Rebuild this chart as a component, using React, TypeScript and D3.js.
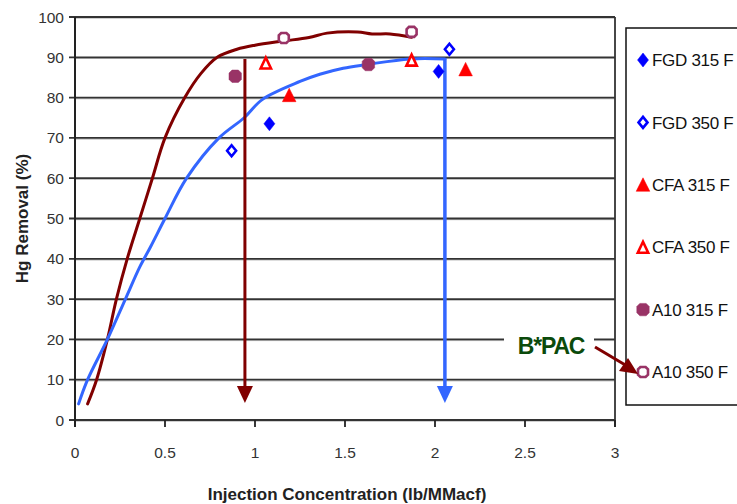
import React from "react";
import * as d3 from "d3";

const W = 737;
const H = 504;

// Axis ticks
const xTickValues = [0, 0.5, 1, 1.5, 2, 2.5, 3];
const yTickValues = [0, 10, 20, 30, 40, 50, 60, 70, 80, 90, 100];

// Series data (lb/MMacf, % removal)
const fgd315 = [{ x: 1.08, y: 73.5 }, { x: 2.02, y: 86.5 }];
const fgd350 = [{ x: 0.87, y: 66.8 }, { x: 2.08, y: 92.0 }];
const cfa315 = [{ x: 1.19, y: 80.6 }, { x: 2.17, y: 87.0 }];
const cfa350 = [{ x: 1.06, y: 88.6 }, { x: 1.87, y: 89.3 }];
const a10_315 = [{ x: 0.89, y: 85.3 }, { x: 1.63, y: 88.2 }];
const a10_350 = [{ x: 1.16, y: 94.8 }, { x: 1.87, y: 96.3 }];

// Hand-drawn trend curves
const bpacCurve = [
  [0.07, 4], [0.12, 10], [0.18, 20], [0.23, 30], [0.29, 40], [0.36, 50],
  [0.43, 60], [0.5, 70], [0.61, 80], [0.7, 86], [0.79, 90], [0.9, 92],
  [1.0, 93], [1.15, 94], [1.3, 94.9], [1.4, 96], [1.57, 96.3], [1.65, 95.8],
  [1.75, 95.8], [1.87, 95],
];
const otherCurve = [
  [0.02, 4], [0.07, 10], [0.18, 20], [0.28, 30], [0.36, 38], [0.42, 43],
  [0.5, 50], [0.62, 60], [0.8, 70], [0.94, 75], [1.04, 79.5], [1.25, 84],
  [1.36, 85.8], [1.49, 87.3], [1.62, 88.2], [1.86, 89.6], [2.055, 89.6],
];
// Vertical read-off arrows: [x, yTop, yTip]
const bpacArrow = [0.944, 89.6, 4.2];
const otherArrow = [2.055, 89.6, 4.2];

const legendLabels = ["FGD 315 F", "FGD 350 F", "CFA 315 F", "CFA 350 F", "A10 315 F", "A10 350 F"];

const BLUE = "#0000FF";
const RED = "#FF0000";
const PURPLE = "#993366";
const DARKRED = "#800000";
const LINEBLUE = "#3366FF";

const x = d3.scaleLinear().domain([0, 3]).range([75, 615]);
const y = d3.scaleLinear().domain([0, 100]).range([420, 17]);

function octagon(r: number, a: number): string {
  return `M${-a},${-r}L${a},${-r}L${r},${-a}L${r},${a}L${a},${r}L${-a},${r}L${-r},${a}L${-r},${-a}Z`;
}

function Marker({ kind, color, open, cx, cy }: { kind: string; color: string; open: boolean; cx: number; cy: number }) {
  let d = "";
  if (kind === "diamond") d = open ? "M0,-5.5L4.5,0L0,5.5L-4.5,0Z" : "M0,-7L5.5,0L0,7L-5.5,0Z";
  else if (kind === "triangle") d = open ? "M0,-5.5L5.2,5.5L-5.2,5.5Z" : "M0,-7L6.8,6.5L-6.8,6.5Z";
  else d = open ? octagon(5, 2.6) : octagon(6.2, 3.2);
  return (
    <path
      d={d}
      transform={`translate(${cx},${cy})`}
      fill={open ? "#fff" : color}
      stroke={color}
      strokeWidth={open ? 2.6 : 0.5}
    />
  );
}

const seriesDefs = [
  { data: fgd315, kind: "diamond", color: BLUE, open: false },
  { data: fgd350, kind: "diamond", color: BLUE, open: true },
  { data: cfa315, kind: "triangle", color: RED, open: false },
  { data: cfa350, kind: "triangle", color: RED, open: true },
  { data: a10_315, kind: "octagon", color: PURPLE, open: false },
  { data: a10_350, kind: "octagon", color: PURPLE, open: true },
];

export default function App() {
  const line = d3
    .line<number[]>()
    .x((d) => x(d[0]))
    .y((d) => y(d[1]))
    .curve(d3.curveCatmullRom.alpha(0.5));

  const font = "'Liberation Sans', Arial, sans-serif";

  const arrowHead = (cx: number, tipY: number, color: string) => (
    <path d={`M${cx - 8},${tipY - 17}L${cx + 8},${tipY - 17}L${cx},${tipY}Z`} fill={color} />
  );

  return (
    <svg
      width={W}
      height={H}
      style={{ position: "absolute", left: 0, top: 0, background: "#fff" }}
      fontFamily={font}
    >
      <rect x={0} y={0} width={W} height={H} fill="#fff" />
      {/* gridlines */}
      {yTickValues.map((v) => (
        <g key={"g" + v}>
          <line x1={x(0)} x2={x(3)} y1={y(v) + 1.2} y2={y(v) + 1.2} stroke="#bbb" strokeWidth={1} />
          <line x1={x(0) - 6} x2={x(3)} y1={y(v)} y2={y(v)} stroke="#333" strokeWidth={1.8} />
        </g>
      ))}
      {/* axes */}
      <line x1={x(0)} x2={x(0)} y1={y(100)} y2={y(0) + 7} stroke="#222" strokeWidth={2} />
      <line x1={x(3)} x2={x(3)} y1={y(100)} y2={y(0) + 7} stroke="#333" strokeWidth={1.8} />
      {xTickValues.map((v) => (
        <line key={"xt" + v} x1={x(v)} x2={x(v)} y1={y(0)} y2={y(0) + 7} stroke="#222" strokeWidth={1.8} />
      ))}
      {yTickValues.map((v) => (
        <text key={"yl" + v} x={64} y={y(v)} dy="0.36em" textAnchor="end" fontSize={15.5} fill="#333">
          {v}
        </text>
      ))}
      {xTickValues.map((v) => (
        <text key={"xl" + v} x={x(v)} y={452} dy="0.36em" textAnchor="middle" fontSize={15.5} fill="#333">
          {d3.format("~g")(v)}
        </text>
      ))}
      <text x={347} y={500} textAnchor="middle" fontSize={17} fontWeight="bold" fill="#222">
        Injection Concentration (lb/MMacf)
      </text>
      <text
        transform={`translate(28,${(y(0) + y(100)) / 2}) rotate(-90)`}
        textAnchor="middle"
        fontSize={17}
        fontWeight="bold"
        fill="#222"
      >
        Hg Removal (%)
      </text>

      {/* curves */}
      <path d={line(bpacCurve) || ""} fill="none" stroke={DARKRED} strokeWidth={3} strokeLinejoin="round" strokeLinecap="round" />
      <path d={line(otherCurve) || ""} fill="none" stroke={LINEBLUE} strokeWidth={3} strokeLinejoin="round" strokeLinecap="round" />

      {/* vertical arrows */}
      <line x1={x(bpacArrow[0])} x2={x(bpacArrow[0])} y1={y(bpacArrow[1])} y2={y(bpacArrow[2]) - 12} stroke={DARKRED} strokeWidth={3} />
      {arrowHead(x(bpacArrow[0]), y(bpacArrow[2]), DARKRED)}
      <line x1={x(otherArrow[0])} x2={x(otherArrow[0])} y1={y(otherArrow[1]) - 1} y2={y(otherArrow[2]) - 12} stroke={LINEBLUE} strokeWidth={3.5} />
      {arrowHead(x(otherArrow[0]), y(otherArrow[2]), LINEBLUE)}

      {/* markers */}
      {seriesDefs.map((s, i) =>
        s.data.map((p, j) => (
          <Marker key={`m${i}-${j}`} kind={s.kind} color={s.color} open={s.open} cx={x(p.x)} cy={y(p.y)} />
        ))
      )}

      {/* legend */}
      <rect x={626} y={28} width={130} height={377} fill="#fff" stroke="#111" strokeWidth={1.5} />
      {legendLabels.map((lab, i) => {
        const s = seriesDefs[i];
        const ly = 60 + i * 62.4;
        return (
          <g key={"lg" + i}>
            <Marker kind={s.kind} color={s.color} open={s.open} cx={643} cy={ly} />
            <text x={652} y={ly} dy="0.36em" fontSize={17} fill="#111" letterSpacing={-0.3}>
              {lab}
            </text>
          </g>
        );
      })}

      {/* B*PAC annotation */}
      <rect x={504} y={322} width={90} height={45} fill="#fff" />
      <text x={551} y={354} textAnchor="middle" fontSize={23} fontWeight="bold" fill="#0b4a0b" letterSpacing={-1.2}>
        B*PAC
      </text>
      <line x1={595} y1={347} x2={627} y2={366} stroke={DARKRED} strokeWidth={3} />
      <path d="M638,374L619,371L628,358Z" fill={DARKRED} />
    </svg>
  );
}
